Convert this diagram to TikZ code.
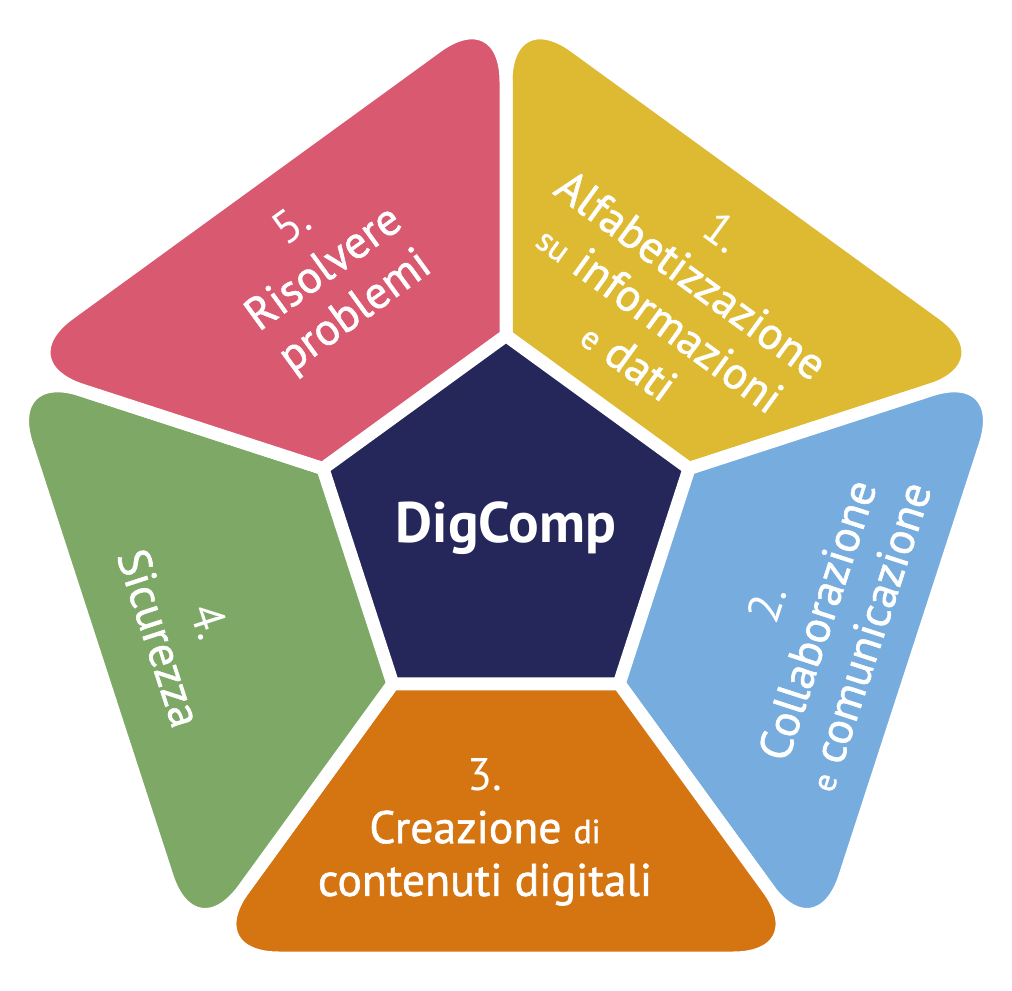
\documentclass[tikz,border=0pt]{standalone}
\usepackage{fontspec}
\setmainfont{PT Sans}
\newfontfamily\medfont{PT Sans}[FakeBold=1.2]
\usepackage{xcolor}
\usepackage{tikz}
\usetikzlibrary{shapes.geometric, positioning}

\definecolor{segyellow}{HTML}{DDBA32}
\definecolor{segblue}{HTML}{77ADDE}
\definecolor{segorange}{HTML}{D47512}
\definecolor{seggreen}{HTML}{7DA865}
\definecolor{segpink}{HTML}{D85970}
\definecolor{dcnavy}{HTML}{25275B}
\newcommand{\smtxt}[1]{{\fontsize{19}{30}\selectfont #1}}
\newcommand{\numtxt}[1]{{\normalfont #1}}

\begin{document}
\begin{tikzpicture}[
    seg/.style={draw=white, line width=2.6mm, line join=round},
    lbl/.style={text=white, align=center, font=\fontsize{26}{30}\selectfont\medfont},
    core/.style={regular polygon, regular polygon sides=5, minimum size=7.08cm,
                 inner sep=0pt, fill=dcnavy, draw=white, line width=2.6mm, rounded corners=1.5pt,
                 text=white, font=\fontsize{32.5}{36}\selectfont\bfseries}
]
\useasboundingbox (-10.12,-9.24) rectangle (10.12,10.56);
\foreach \k/\a in {1/90, 2/18, 3/-54, 4/-126, 5/162}{
    \coordinate (i\k) at (\a:3.54);
    \coordinate (o\k) at (\a:10.63);
}

\fill[seg, fill=segyellow] (i1) [rounded corners=1.7cm] -- (o1) -- (o2) [rounded corners=2pt] -- (i2) -- cycle;
\fill[seg, fill=segblue]   (i2) [rounded corners=1.7cm] -- (o2) -- (o3) [rounded corners=2pt] -- (i3) -- cycle;
\fill[seg, fill=segorange] (i3) [rounded corners=1.7cm] -- (o3) -- (o4) [rounded corners=2pt] -- (i4) -- cycle;
\fill[seg, fill=seggreen]  (i4) [rounded corners=1.7cm] -- (o4) -- (o5) [rounded corners=2pt] -- (i5) -- cycle;
\fill[seg, fill=segpink]   (i5) [rounded corners=1.7cm] -- (o5) -- (o1) [rounded corners=2pt] -- (i1) -- cycle;

\node[core] (dc) at (0,0) {DigComp};

\node[lbl, rotate=-36] (info)   at (3.40,4.64)   {\numtxt{1.}\\Alfabetizzazione\\\smtxt{su} informazioni\\\smtxt{e} dati};
\node[lbl, rotate=72]  (collab) at (6.22,-1.84)  {\numtxt{2.}\\Collaborazione\\\smtxt{e} comunicazione};
\node[lbl]             (create) at (-0.42,-6.08) {\numtxt{3.}\\Creazione \smtxt{di}\\contenuti digitali};
\node[lbl, rotate=-72] (safety) at (-6.42,-2.04) {\numtxt{4.}\\Sicurezza};
\node[lbl, rotate=36]  (solve)  at (-3.62,5.16)  {\numtxt{5.}\\Risolvere\\problemi};
\end{tikzpicture}
\end{document}
